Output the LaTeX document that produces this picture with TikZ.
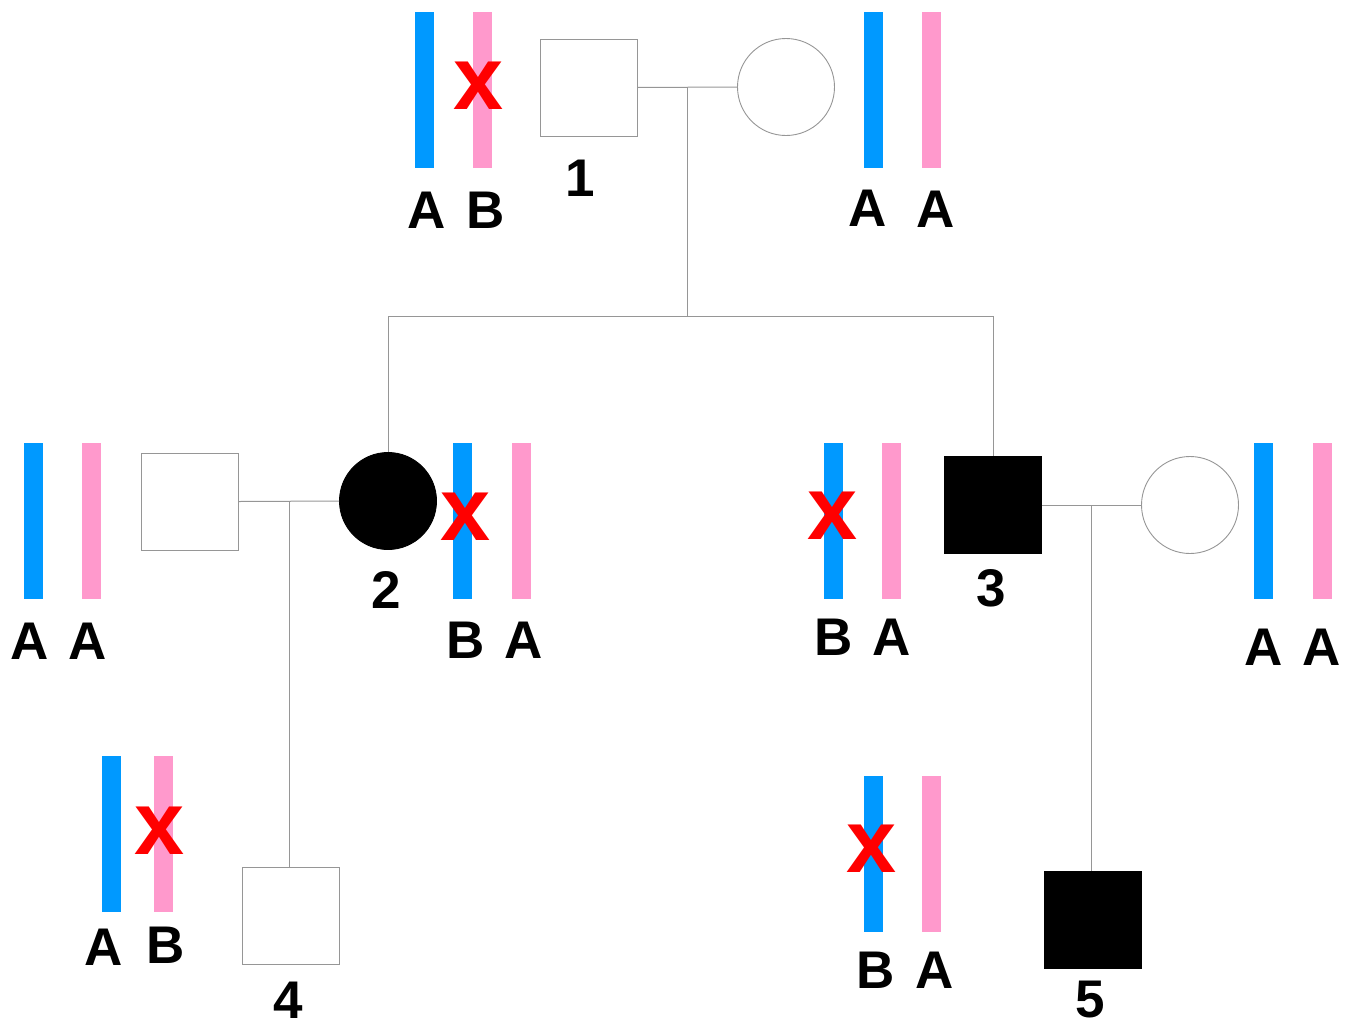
\documentclass[tikz,border=0pt]{standalone}
\usepackage{fontspec}
\setmainfont{Liberation Sans}
\usetikzlibrary{calc}
\definecolor{chromblue}{RGB}{0,153,255}
\definecolor{chrompink}{RGB}{255,153,204}
\definecolor{mutred}{RGB}{255,0,0}
\definecolor{linegray}{RGB}{150,150,150}
\tikzset{
  kin/.style={draw=linegray, line width=1pt},
  person/.style={draw=linegray, line width=0.9pt, inner sep=0pt, minimum size=97pt, fill=white},
  male/.style={person, rectangle},
  female/.style={person, circle},
  affected/.style={fill=black, draw=black},
  chrom/.style={rectangle, inner sep=0pt, minimum width=19pt, minimum height=156pt},
  bluechrom/.style={chrom, fill=chromblue},
  pinkchrom/.style={chrom, fill=chrompink},
  lab/.style={font=\fontsize{53}{60}\selectfont\bfseries, inner sep=0pt},
  mutx/.style={font=\fontsize{90}{90}\selectfont\bfseries, text=mutred, inner sep=0pt},
}
\begin{document}
\begin{tikzpicture}[x=1pt,y=-1pt]
\useasboundingbox (0,0) rectangle (1352,1023);

% ---- generation I ----
\node[bluechrom] (c1a) at (424,89.5) {};
\node[pinkchrom] (c1b) at (482.5,89.5) {};
\node[mutx] (x1) at (479,86) {x};
\node[lab] (l1a) at (427,210) {A};
\node[lab] (l1b) at (486,210) {B};

\node[male] (p1) at (588.5,87.5) {};
\node[lab] (n1) at (580,178) {1};
\node[female] (p1w) at (786,87) {};

\node[bluechrom] (c1c) at (873.5,89.5) {};
\node[pinkchrom] (c1d) at (931.5,89.5) {};
\node[lab] (l1c) at (868,208) {A};
\node[lab] (l1d) at (936,209) {A};

% ---- generation II ----
\node[bluechrom] (c2a) at (33.5,520.5) {};
\node[pinkchrom] (c2b) at (91.5,520.5) {};
\node[lab] (l2a) at (30,641) {A};
\node[lab] (l2b) at (88,641) {A};

\node[male] (p2h) at (190,501.5) {};
\node[female, affected] (p2) at (388,501) {};
\node[lab] (n2) at (386,590) {2};

\node[bluechrom] (c2c) at (462.5,520.5) {};
\node[pinkchrom] (c2d) at (521.5,520.5) {};
\node[mutx] (x2) at (466,517) {x};
\node[lab] (l2c) at (466,640) {B};
\node[lab] (l2d) at (524,640) {A};

\node[bluechrom] (c3a) at (833.5,520.5) {};
\node[pinkchrom] (c3b) at (891.5,520.5) {};
\node[mutx] (x3) at (833,516) {x};
\node[lab] (l3a) at (834,637) {B};
\node[lab] (l3b) at (892,637) {A};

\node[male, affected] (p3) at (993,505) {};
\node[lab] (n3) at (991,588) {3};
\node[female] (p3w) at (1190,505) {};

\node[bluechrom] (c3c) at (1263.5,520.5) {};
\node[pinkchrom] (c3d) at (1322.5,520.5) {};
\node[lab] (l3c) at (1264,647) {A};
\node[lab] (l3d) at (1322,647) {A};

% ---- generation III ----
\node[bluechrom] (c4a) at (111.5,834) {};
\node[pinkchrom] (c4b) at (163.5,834) {};
\node[mutx] (x4) at (160,831) {x};
\node[lab] (l4a) at (104,947) {A};
\node[lab] (l4b) at (166,945) {B};

\node[male] (p4) at (291,916) {};
\node[lab] (n4) at (288,1000) {4};

\node[bluechrom] (c5a) at (873.5,853.5) {};
\node[pinkchrom] (c5b) at (931.5,853.5) {};
\node[mutx] (x5) at (872,849) {x};
\node[lab] (l5a) at (876,970) {B};
\node[lab] (l5b) at (935,970) {A};

\node[male, affected] (p5) at (1093,919.5) {};
\node[lab] (n5) at (1090,1000) {5};

% ---- pedigree lines ----
\coordinate (m1) at ($(p1.east)!0.5!(p1w.west)$);
\coordinate (sib) at (0,316);
\draw[kin] (p1.east) -- (p1w.west);
\draw[kin] (m1) -- (m1 |- sib);
\draw[kin] (p2.north) -- (p2.north |- sib) -- (p3.north |- sib) -- (p3.north);

\coordinate (m2) at ($(p2h.east)!0.5!(p2.west)$);
\draw[kin] (p2h.east) -- (p2.west);
\draw[kin] (m2) -- (m2 |- p4.north);

\coordinate (m3) at ($(p3.east)!0.5!(p3w.west)$);
\draw[kin] (p3.east) -- (p3w.west);
\draw[kin] (m3) -- (m3 |- p5.north);
\end{tikzpicture}
\end{document}
